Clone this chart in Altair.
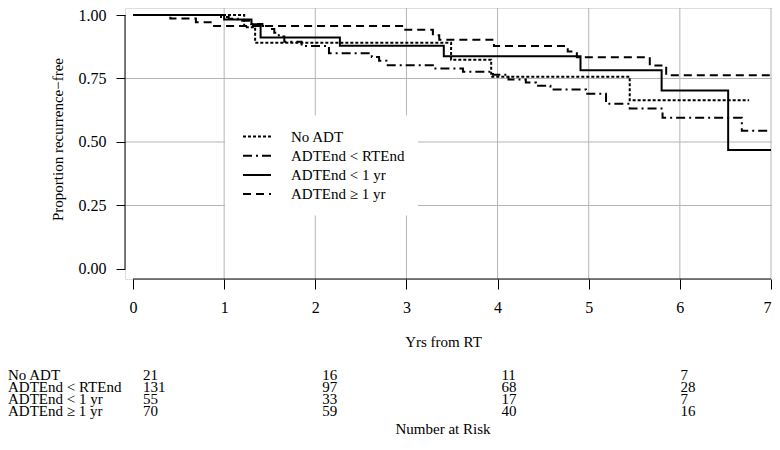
import altair as alt
import pandas as pd

FONT = "Liberation Serif"

groups = ["No ADT", "ADTEnd < RTEnd", "ADTEnd < 1 yr", "ADTEnd \u2265 1 yr"]
dashes = [[3, 2], [9, 4, 2, 4], [1, 0], [8, 5]]

# Kaplan-Meier step curves (time in years, proportion recurrence-free)
noadt_t = [0, 1.22, 1.34, 3.49, 3.93, 5.45, 6.76]
noadt_s = [1.0, 0.952, 0.891, 0.824, 0.757, 0.664, 0.664]

rtend_t = [0, 0.95, 1.05, 1.15, 1.30, 1.42, 1.50, 1.55, 1.60, 1.66, 1.85, 2.15,
           2.62, 2.70, 2.78, 3.29, 3.62, 3.95, 4.12, 4.31, 4.42, 4.58, 4.97,
           5.19, 5.45, 5.81, 6.68, 7.0]
rtend_s = [1.0, 0.992, 0.985, 0.977, 0.965, 0.957, 0.945, 0.930, 0.915, 0.895,
           0.878, 0.849, 0.835, 0.820, 0.802, 0.789, 0.777, 0.765, 0.746, 0.734,
           0.721, 0.707, 0.690, 0.651, 0.632, 0.595, 0.544, 0.544]

lt1_t = [0, 1.0, 1.30, 1.40, 2.27, 3.41, 4.91, 5.80, 6.53, 7.0]
lt1_s = [1.0, 0.982, 0.964, 0.911, 0.879, 0.838, 0.782, 0.703, 0.468, 0.468]

ge1_t = [0, 0.41, 0.69, 0.87, 2.97, 3.29, 3.36, 3.96, 4.77, 4.87, 5.67, 5.85, 7.0]
ge1_s = [1.0, 0.986, 0.971, 0.957, 0.942, 0.920, 0.903, 0.878, 0.856, 0.834,
         0.801, 0.763, 0.763]

# Number at risk table
risk_times = [0, 2, 4, 6]
risk_noadt = [21, 16, 11, 7]
risk_rtend = [131, 97, 68, 28]
risk_lt1 = [55, 33, 17, 7]
risk_ge1 = [70, 59, 40, 16]

x_ticks = [0, 1, 2, 3, 4, 5, 6, 7]
y_ticks = [0, 0.25, 0.5, 0.75, 1.0]
grid_x = [1, 2, 3, 4, 5, 6, 7]
grid_y = [0.25, 0.5, 0.75]
x_axis_span = [0, 7]
y_axis_span = [0, 1]

# ---------------------------------------------------------------
W, H = 647, 271
x_scale = alt.Scale(domain=[-0.0878, 7.011], nice=False, zero=False)
y_scale = alt.Scale(domain=[-0.0394, 1.02756], nice=False, zero=False)

x_axis = alt.Axis(values=x_ticks, format="d", domain=False, grid=False,
                  tickSize=10, tickColor="black", tickWidth=1,
                  labelFont=FONT, labelFontSize=16, labelColor="black",
                  labelPadding=10, labelFlush=3, labelOverlap=False,
                  title="Yrs from RT", titleFont=FONT, titleFontSize=15,
                  titleFontWeight="normal", titleColor="black",
                  titleX=318, titleY=62, titleBaseline="middle", titleAlign="center")
y_axis = alt.Axis(values=y_ticks, format=".2f", domain=False, grid=False,
                  tickSize=9, tickColor="black", tickWidth=1,
                  labelFont=FONT, labelFontSize=16, labelColor="black",
                  labelPadding=10, labelFlush=False, labelOverlap=False,
                  title="Proportion recurrence\u2212free", titleFont=FONT,
                  titleFontSize=15, titleFontWeight="normal", titleColor="black",
                  titleAngle=270, titleX=-68, titleY=131,
                  titleBaseline="middle", titleAlign="center")

X = lambda f="x": alt.X(f"{f}:Q", scale=x_scale, axis=x_axis)
Y = lambda f="y": alt.Y(f"{f}:Q", scale=y_scale, axis=y_axis)

rows = []
for g, ts, ss in [(groups[0], noadt_t, noadt_s), (groups[1], rtend_t, rtend_s),
                  (groups[2], lt1_t, lt1_s), (groups[3], ge1_t, ge1_s)]:
    for i, (t, s) in enumerate(zip(ts, ss)):
        rows.append({"group": g, "x": t, "y": s, "i": i})
curves_df = pd.DataFrame(rows)

vgrid = alt.Chart(pd.DataFrame({"x": grid_x})).mark_rule(
    color="#b5b5b5", strokeWidth=1).encode(x=X())
hgrid = alt.Chart(pd.DataFrame({"y": grid_y})).mark_rule(
    color="#b5b5b5", strokeWidth=1).encode(y=Y())

xline = alt.Chart(pd.DataFrame({"x": [x_axis_span[0]], "x2": [x_axis_span[1]]})).mark_rule(
    color="black", strokeWidth=1).encode(x=X(), x2="x2:Q", y=alt.value(H))
yline = alt.Chart(pd.DataFrame({"y": [y_axis_span[0]], "y2": [y_axis_span[1]]})).mark_rule(
    color="black", strokeWidth=1).encode(y=Y(), y2="y2:Q", x=alt.value(0))

curves = alt.Chart(curves_df).mark_line(
    interpolate="step-after", color="black", strokeWidth=2).encode(
    x=X(), y=Y(),
    strokeDash=alt.StrokeDash(
        "group:N",
        scale=alt.Scale(domain=groups, range=dashes),
        legend=alt.Legend(orient="none", legendX=100, legendY=107.5, title=None,
                          fillColor="white", padding=13, rowPadding=3.2,
                          symbolType="M-2,0H2", symbolSize=196,
                          symbolStrokeWidth=2, symbolStrokeColor="black",
                          symbolOffset=11, labelOffset=26,
                          labelFont=FONT, labelFontSize=15, labelColor="black",
                          labelLimit=300)),
    order=alt.Order("i:Q"))

main = alt.layer(vgrid, hgrid, xline, yline, curves)

# risk table
trows = []
for r, (g, vals) in enumerate(zip(groups, [risk_noadt, risk_rtend, risk_lt1, risk_ge1])):
    for t, n in zip(risk_times, vals):
        trows.append({"group": g, "row": r, "time": t, "n": str(n)})
table_df = pd.DataFrame(trows)
lab_df = pd.DataFrame({"group": groups, "row": list(range(len(groups)))})

tx = alt.Scale(domain=[0, 6], range=[18, 555.6])
ty = alt.Scale(domain=[0, 3], range=[367, 403])

nums = alt.Chart(table_df).mark_text(
    align="left", baseline="middle", font=FONT, fontSize=15, color="black").encode(
    x=alt.X("time:Q", scale=tx, axis=None),
    y=alt.Y("row:Q", scale=ty, axis=None),
    text="n:N")
labs = alt.Chart(lab_df).mark_text(
    align="left", baseline="middle", font=FONT, fontSize=15, color="black").encode(
    x=alt.value(-117),
    y=alt.Y("row:Q", scale=ty, axis=None),
    text="group:N")
nar = alt.Chart(pd.DataFrame({"t": ["Number at Risk"]})).mark_text(
    align="center", baseline="middle", font=FONT, fontSize=15, color="black").encode(
    x=alt.value(318), y=alt.value(421), text="t:N")

table = alt.layer(nums, labs, nar)

chart = alt.layer(main, table).resolve_scale(
    x="independent", y="independent").properties(
    width=W, height=H,
    autosize=alt.AutoSizeParams(type="none"),
    padding={"left": 117, "top": 0, "right": 0, "bottom": 157}
).configure_view(stroke=None).configure(font=FONT)

chart.save("out.html", embed_options={"renderer": "svg", "actions": False})
